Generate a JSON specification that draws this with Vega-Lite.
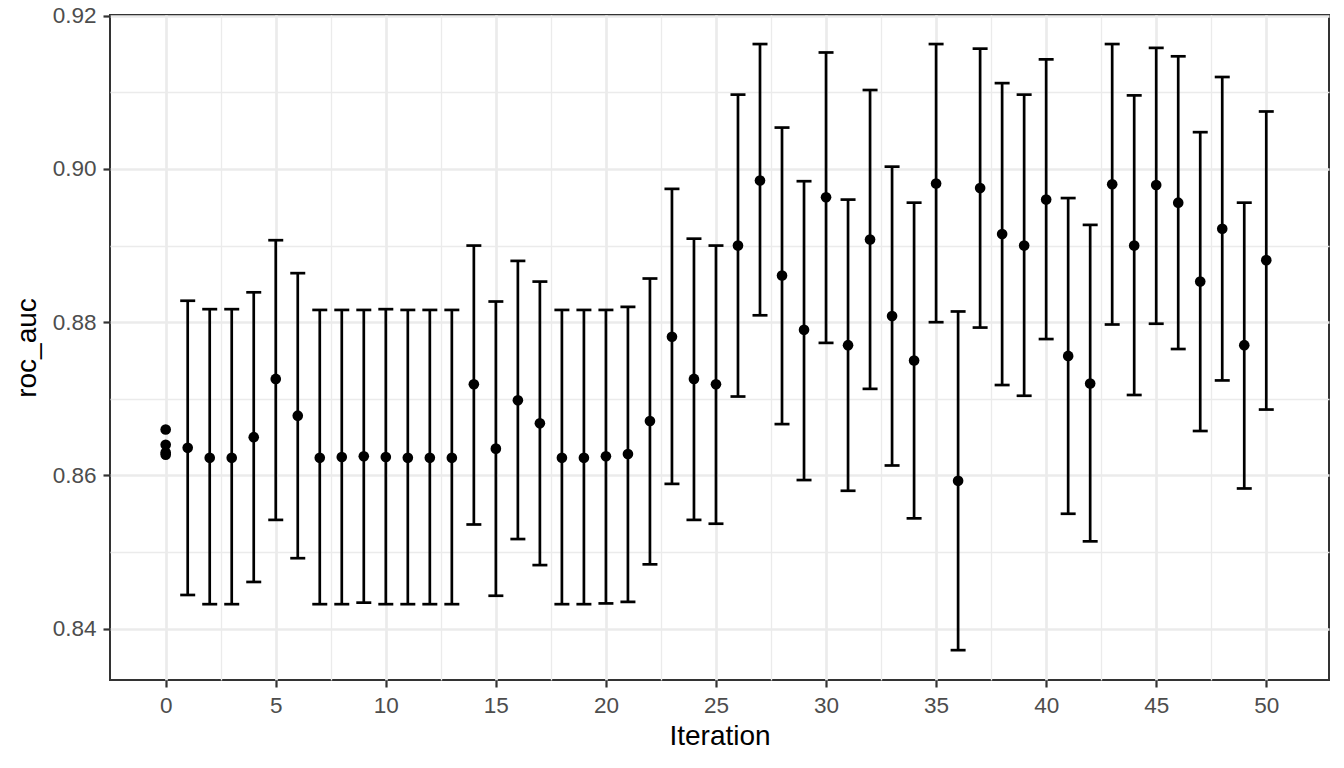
{
  "$schema": "https://vega.github.io/schema/vega-lite/v6.json",
  "width": 1219,
  "height": 665,
  "autosize": {"type": "none"},
  "padding": {"left": 110, "top": 15, "right": 15, "bottom": 88},
  "background": "white",
  "config": {
    "font": "Liberation Sans",
    "view": {"stroke": "#333333", "strokeWidth": 2},
    "axis": {
      "domain": false,
      "grid": true,
      "gridColor": "#EBEBEB",
      "tickColor": "#333333",
      "tickSize": 7,
      "tickWidth": 2.2,
      "labelColor": "#4D4D4D",
      "labelFont": "Liberation Sans",
      "labelFontSize": 22.5,
      "labelPadding": 7,
      "labelOverlap": false,
      "labelFlush": false,
      "titleColor": "#000000",
      "titleFont": "Liberation Sans",
      "titleFontSize": 28,
      "titleFontWeight": "normal"
    }
  },
  "data": {
    "values": [
      {"iteration": 0, "roc_auc": 0.8660, "lo": null, "hi": null},
      {"iteration": 0, "roc_auc": 0.8640, "lo": null, "hi": null},
      {"iteration": 0, "roc_auc": 0.8630, "lo": null, "hi": null},
      {"iteration": 0, "roc_auc": 0.8627, "lo": null, "hi": null},
      {"iteration": 1, "roc_auc": 0.8636, "lo": 0.8444, "hi": 0.8828},
      {"iteration": 2, "roc_auc": 0.8623, "lo": 0.8432, "hi": 0.8817},
      {"iteration": 3, "roc_auc": 0.8623, "lo": 0.8432, "hi": 0.8817},
      {"iteration": 4, "roc_auc": 0.8650, "lo": 0.8461, "hi": 0.8839},
      {"iteration": 5, "roc_auc": 0.8726, "lo": 0.8542, "hi": 0.8907},
      {"iteration": 6, "roc_auc": 0.8678, "lo": 0.8492, "hi": 0.8864},
      {"iteration": 7, "roc_auc": 0.8623, "lo": 0.8432, "hi": 0.8816},
      {"iteration": 8, "roc_auc": 0.8624, "lo": 0.8432, "hi": 0.8816},
      {"iteration": 9, "roc_auc": 0.8625, "lo": 0.8434, "hi": 0.8816},
      {"iteration": 10, "roc_auc": 0.8624, "lo": 0.8432, "hi": 0.8817},
      {"iteration": 11, "roc_auc": 0.8623, "lo": 0.8432, "hi": 0.8816},
      {"iteration": 12, "roc_auc": 0.8623, "lo": 0.8432, "hi": 0.8816},
      {"iteration": 13, "roc_auc": 0.8623, "lo": 0.8432, "hi": 0.8816},
      {"iteration": 14, "roc_auc": 0.8719, "lo": 0.8536, "hi": 0.8900},
      {"iteration": 15, "roc_auc": 0.8635, "lo": 0.8443, "hi": 0.8827},
      {"iteration": 16, "roc_auc": 0.8698, "lo": 0.8517, "hi": 0.8880},
      {"iteration": 17, "roc_auc": 0.8668, "lo": 0.8483, "hi": 0.8853},
      {"iteration": 18, "roc_auc": 0.8623, "lo": 0.8432, "hi": 0.8816},
      {"iteration": 19, "roc_auc": 0.8623, "lo": 0.8432, "hi": 0.8816},
      {"iteration": 20, "roc_auc": 0.8625, "lo": 0.8433, "hi": 0.8816},
      {"iteration": 21, "roc_auc": 0.8628, "lo": 0.8435, "hi": 0.8820},
      {"iteration": 22, "roc_auc": 0.8671, "lo": 0.8484, "hi": 0.8857},
      {"iteration": 23, "roc_auc": 0.8781, "lo": 0.8589, "hi": 0.8974},
      {"iteration": 24, "roc_auc": 0.8726, "lo": 0.8542, "hi": 0.8909},
      {"iteration": 25, "roc_auc": 0.8719, "lo": 0.8537, "hi": 0.8900},
      {"iteration": 26, "roc_auc": 0.8900, "lo": 0.8703, "hi": 0.9097},
      {"iteration": 27, "roc_auc": 0.8985, "lo": 0.8809, "hi": 0.9163},
      {"iteration": 28, "roc_auc": 0.8861, "lo": 0.8667, "hi": 0.9054},
      {"iteration": 29, "roc_auc": 0.8790, "lo": 0.8594, "hi": 0.8984},
      {"iteration": 30, "roc_auc": 0.8963, "lo": 0.8773, "hi": 0.9152},
      {"iteration": 31, "roc_auc": 0.8770, "lo": 0.8580, "hi": 0.8960},
      {"iteration": 32, "roc_auc": 0.8908, "lo": 0.8713, "hi": 0.9103},
      {"iteration": 33, "roc_auc": 0.8808, "lo": 0.8613, "hi": 0.9003},
      {"iteration": 34, "roc_auc": 0.8750, "lo": 0.8544, "hi": 0.8956},
      {"iteration": 35, "roc_auc": 0.8981, "lo": 0.8800, "hi": 0.9163},
      {"iteration": 36, "roc_auc": 0.8593, "lo": 0.8372, "hi": 0.8814},
      {"iteration": 37, "roc_auc": 0.8975, "lo": 0.8793, "hi": 0.9157},
      {"iteration": 38, "roc_auc": 0.8915, "lo": 0.8718, "hi": 0.9112},
      {"iteration": 39, "roc_auc": 0.8900, "lo": 0.8704, "hi": 0.9097},
      {"iteration": 40, "roc_auc": 0.8960, "lo": 0.8778, "hi": 0.9143},
      {"iteration": 41, "roc_auc": 0.8756, "lo": 0.8550, "hi": 0.8962},
      {"iteration": 42, "roc_auc": 0.8720, "lo": 0.8514, "hi": 0.8927},
      {"iteration": 43, "roc_auc": 0.8980, "lo": 0.8797, "hi": 0.9163},
      {"iteration": 44, "roc_auc": 0.8900, "lo": 0.8705, "hi": 0.9096},
      {"iteration": 45, "roc_auc": 0.8979, "lo": 0.8798, "hi": 0.9158},
      {"iteration": 46, "roc_auc": 0.8956, "lo": 0.8765, "hi": 0.9147},
      {"iteration": 47, "roc_auc": 0.8853, "lo": 0.8658, "hi": 0.9048},
      {"iteration": 48, "roc_auc": 0.8922, "lo": 0.8724, "hi": 0.9120},
      {"iteration": 49, "roc_auc": 0.8770, "lo": 0.8583, "hi": 0.8956},
      {"iteration": 50, "roc_auc": 0.8881, "lo": 0.8686, "hi": 0.9075}
    ]
  },
  "encoding": {
    "x": {
      "field": "iteration",
      "type": "quantitative",
      "scale": {"domain": [-2.53, 52.85], "nice": false, "zero": false},
      "axis": {
        "title": "Iteration",
        "titlePadding": 6,
        "values": [0, 2.5, 5, 7.5, 10, 12.5, 15, 17.5, 20, 22.5, 25, 27.5, 30, 32.5, 35, 37.5, 40, 42.5, 45, 47.5, 50],
        "labelExpr": "datum.value % 5 === 0 ? format(datum.value, 'd') : ''",
        "gridWidth": {"condition": {"test": "datum.value % 5 === 0", "value": 2.7}, "value": 1.35},
        "tickOpacity": {"condition": {"test": "datum.value % 5 === 0", "value": 1}, "value": 0}
      }
    }
  },
  "layer": [
    {
      "transform": [{"filter": "isValid(datum.lo)"}],
      "mark": {"type": "rule", "color": "black", "strokeWidth": 2.7},
      "encoding": {
        "y": {
          "field": "lo",
          "type": "quantitative",
          "scale": {"domain": [0.833305, 0.920091], "nice": false, "zero": false},
          "axis": {
            "title": "roc_auc",
            "titlePadding": 11,
            "values": [0.84, 0.85, 0.86, 0.87, 0.88, 0.89, 0.9, 0.91, 0.92],
            "labelExpr": "round(datum.value * 100) % 2 === 0 ? format(datum.value, '.2f') : ''",
            "gridWidth": {"condition": {"test": "round(datum.value * 100) % 2 === 0", "value": 2.7}, "value": 1.35},
            "tickOpacity": {"condition": {"test": "round(datum.value * 100) % 2 === 0", "value": 1}, "value": 0}
          }
        },
        "y2": {"field": "hi"}
      }
    },
    {
      "transform": [{"filter": "isValid(datum.lo)"}],
      "mark": {"type": "tick", "orient": "horizontal", "size": 15, "thickness": 2.7, "color": "black", "opacity": 1},
      "encoding": {
        "y": {
          "field": "lo",
          "type": "quantitative",
          "scale": {"domain": [0.833305, 0.920091], "nice": false, "zero": false},
          "axis": {
            "title": "roc_auc",
            "titlePadding": 11,
            "values": [0.84, 0.85, 0.86, 0.87, 0.88, 0.89, 0.9, 0.91, 0.92],
            "labelExpr": "round(datum.value * 100) % 2 === 0 ? format(datum.value, '.2f') : ''",
            "gridWidth": {"condition": {"test": "round(datum.value * 100) % 2 === 0", "value": 2.7}, "value": 1.35},
            "tickOpacity": {"condition": {"test": "round(datum.value * 100) % 2 === 0", "value": 1}, "value": 0}
          }
        }
      }
    },
    {
      "transform": [{"filter": "isValid(datum.hi)"}],
      "mark": {"type": "tick", "orient": "horizontal", "size": 15, "thickness": 2.7, "color": "black", "opacity": 1},
      "encoding": {
        "y": {
          "field": "hi",
          "type": "quantitative",
          "scale": {"domain": [0.833305, 0.920091], "nice": false, "zero": false},
          "axis": {
            "title": "roc_auc",
            "titlePadding": 11,
            "values": [0.84, 0.85, 0.86, 0.87, 0.88, 0.89, 0.9, 0.91, 0.92],
            "labelExpr": "round(datum.value * 100) % 2 === 0 ? format(datum.value, '.2f') : ''",
            "gridWidth": {"condition": {"test": "round(datum.value * 100) % 2 === 0", "value": 2.7}, "value": 1.35},
            "tickOpacity": {"condition": {"test": "round(datum.value * 100) % 2 === 0", "value": 1}, "value": 0}
          }
        }
      }
    },
    {
      "mark": {"type": "circle", "size": 113, "color": "black", "opacity": 1},
      "encoding": {
        "y": {
          "field": "roc_auc",
          "type": "quantitative",
          "scale": {"domain": [0.833305, 0.920091], "nice": false, "zero": false},
          "axis": {
            "title": "roc_auc",
            "titlePadding": 11,
            "values": [0.84, 0.85, 0.86, 0.87, 0.88, 0.89, 0.9, 0.91, 0.92],
            "labelExpr": "round(datum.value * 100) % 2 === 0 ? format(datum.value, '.2f') : ''",
            "gridWidth": {"condition": {"test": "round(datum.value * 100) % 2 === 0", "value": 2.7}, "value": 1.35},
            "tickOpacity": {"condition": {"test": "round(datum.value * 100) % 2 === 0", "value": 1}, "value": 0}
          }
        }
      }
    }
  ]
}
